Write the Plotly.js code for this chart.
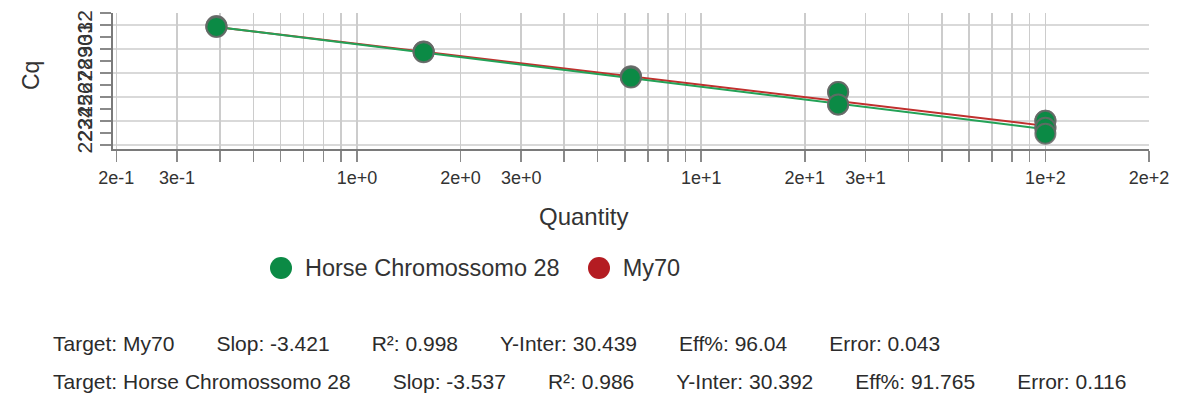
<!DOCTYPE html>
<html>
<head>
<meta charset="utf-8">
<script src="https://cdn.plot.ly/plotly-3.0.1.min.js"></script>
<style>
  html, body { margin: 0; padding: 0; background: #fff; }
  body { width: 1182px; height: 403px; position: relative; overflow: hidden;
         font-family: "Liberation Sans", Arial, sans-serif; color: #333; }
  #chart { position: absolute; left: 0; top: 0; width: 1182px; height: 240px; }
  #legend { position: absolute; left: 270px; top: 256px; height: 24px;
            display: flex; align-items: center; font-size: 23.5px; color: #333; }
  #legend .dot { width: 22px; height: 22px; border-radius: 50%; display: inline-block; }
  #legend .lbl { margin-left: 13px; margin-right: 28px; white-space: nowrap; }
  #stats { position: absolute; left: 53px; top: 325px;
           font-size: 21px; color: #2b2b2b; white-space: nowrap; }
  #stats .row { height: 38px; line-height: 38px; }
  #stats .item { margin-right: 42px; }
  #stats .item:last-child { margin-right: 0; }
</style>
</head>
<body>
<div id="chart"></div>
<div id="legend"></div>
<div id="stats"></div>
<script>
// Standard curve: 4-fold dilution series, Cq per replicate
const seriesNames = ['Horse Chromossomo 28', 'My70'];
const seriesColors = ['#0b8a45', '#b41c22'];
const lineColors = ['#23a257', '#c0302e'];

const horseQty = [0.390625, 0.390625, 1.5625, 1.5625, 6.25, 6.25, 25, 25, 100, 100, 100];
const horseCq  = [31.92, 31.84, 29.80, 29.74, 27.74, 27.62, 26.42, 25.38, 24.02, 23.44, 22.94];

const my70Qty = [0.390625, 1.5625, 6.25, 25, 25, 100, 100];
const my70Cq  = [31.88, 29.77, 27.68, 26.42, 25.38, 24.02, 23.44];

// Regression summary per target (row order of the stats block)
const statTargets    = ['My70', 'Horse Chromossomo 28'];
const statSlopes     = [-3.421, -3.537];
const statR2         = [0.998, 0.986];
const statIntercepts = [30.439, 30.392];
const statEff        = ['96.04', '91.765'];
const statError      = ['0.043', '0.116'];

// Log-axis ticks: every integer multiple, labels only on 1, 2, 3
const xTickVals = [0.2, 0.3, 0.4, 0.5, 0.6, 0.7, 0.8, 0.9,
                   1, 2, 3, 4, 5, 6, 7, 8, 9,
                   10, 20, 30, 40, 50, 60, 70, 80, 90,
                   100, 200];
const xTickText = ['2e-1', '3e-1', '', '', '', '', '', '',
                   '1e+0', '2e+0', '3e+0', '', '', '', '', '', '',
                   '1e+1', '2e+1', '3e+1', '', '', '', '', '', '',
                   '1e+2', '2e+2'];

const yRange = [21.67, 33];
const gridColor = '#cccccc';

function fitLine(slope, intercept, qtys) {
  const lo = Math.min.apply(null, qtys), hi = Math.max.apply(null, qtys);
  return { x: [lo, hi], y: [intercept + slope * Math.log10(lo), intercept + slope * Math.log10(hi)] };
}

const fitMy70 = fitLine(statSlopes[0], statIntercepts[0], my70Qty);
const fitHorse = fitLine(statSlopes[1], statIntercepts[1], horseQty);

const markerOutline = { color: 'rgba(105,105,105,0.85)', width: 2 };

const traces = [
  { x: fitMy70.x, y: fitMy70.y, mode: 'lines', line: { color: lineColors[1], width: 2 },
    showlegend: false, hoverinfo: 'skip' },
  { x: fitHorse.x, y: fitHorse.y, mode: 'lines', line: { color: lineColors[0], width: 2 },
    showlegend: false, hoverinfo: 'skip' },
  { x: my70Qty, y: my70Cq, mode: 'markers', name: seriesNames[1],
    marker: { size: 20, color: seriesColors[1], line: markerOutline }, showlegend: false },
  { x: horseQty, y: horseCq, mode: 'markers', name: seriesNames[0],
    marker: { size: 20, color: seriesColors[0], line: markerOutline }, showlegend: false }
];

// Horizontal grid on even Cq values only (labels/ticks stay on every integer)
const gridShapes = [];
for (let v = Math.ceil(yRange[0] / 2) * 2; v <= yRange[1]; v += 2) {
  gridShapes.push({ type: 'line', layer: 'below', xref: 'paper', x0: 0, x1: 1,
                    yref: 'y', y0: v, y1: v, line: { color: gridColor, width: 1.5 } });
}

const fontFam = '"Liberation Sans", Arial, sans-serif';

const layout = {
  width: 1182, height: 240,
  margin: { l: 113, r: 33, t: 13, b: 91 },
  paper_bgcolor: '#fff', plot_bgcolor: '#fff',
  font: { family: fontFam, color: '#333' },
  showlegend: false,
  xaxis: {
    type: 'log', range: [-0.7087, Math.log10(200)],
    tickmode: 'array', tickvals: xTickVals, ticktext: xTickText,
    ticks: 'outside', ticklen: 11, tickcolor: '#8a8a8a', tickwidth: 1.5,
    showgrid: true, gridcolor: gridColor, gridwidth: 1.5,
    showline: true, linecolor: '#7a7a7a', linewidth: 2,
    zeroline: false, tickfont: { size: 18, color: '#333' }
  },
  yaxis: {
    range: yRange, tickmode: 'linear', tick0: 22, dtick: 1,
    ticks: 'outside', ticklen: 11, tickcolor: '#8a8a8a', tickwidth: 1.5,
    tickangle: -90, tickfont: { size: 21, color: '#333' },
    showgrid: false, showline: true, linecolor: '#7a7a7a', linewidth: 2,
    zeroline: false
  },
  shapes: gridShapes,
  annotations: [
    { text: 'Quantity', xref: 'paper', yref: 'paper', x: (583 - 113) / 1036, y: (149 - 216) / 136,
      xanchor: 'center', yanchor: 'middle', showarrow: false,
      font: { size: 24, color: '#333', family: fontFam } },
    { text: 'Cq', xref: 'paper', yref: 'paper', x: (31 - 113) / 1036, y: (149 - 76) / 136,
      xanchor: 'center', yanchor: 'middle', textangle: -90, showarrow: false,
      font: { size: 23, color: '#333', family: fontFam } }
  ]
};

Plotly.newPlot('chart', traces, layout, { staticPlot: true, displayModeBar: false });

// Legend row
const legend = document.getElementById('legend');
seriesNames.forEach(function (name, i) {
  const dot = document.createElement('span');
  dot.className = 'dot';
  dot.style.background = seriesColors[i];
  const lbl = document.createElement('span');
  lbl.className = 'lbl';
  lbl.textContent = name;
  legend.appendChild(dot);
  legend.appendChild(lbl);
});

// Regression summary lines
const stats = document.getElementById('stats');
statTargets.forEach(function (t, i) {
  const row = document.createElement('div');
  row.className = 'row';
  const parts = [
    'Target: ' + t,
    'Slop: ' + statSlopes[i].toFixed(3),
    'R\u00B2: ' + statR2[i].toFixed(3),
    'Y-Inter: ' + statIntercepts[i].toFixed(3),
    'Eff%: ' + statEff[i],
    'Error: ' + statError[i]
  ];
  parts.forEach(function (p) {
    const s = document.createElement('span');
    s.className = 'item';
    s.textContent = p;
    row.appendChild(s);
  });
  stats.appendChild(row);
});
</script>
</body>
</html>
